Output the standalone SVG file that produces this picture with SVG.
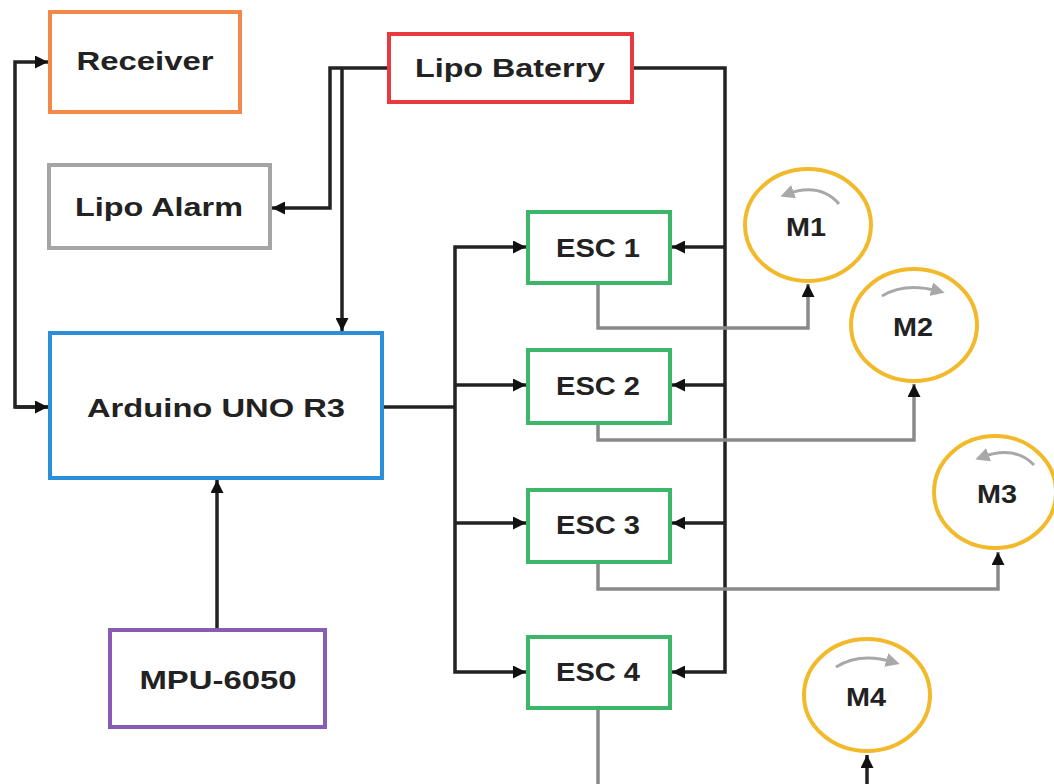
<svg xmlns="http://www.w3.org/2000/svg" width="1054" height="784" viewBox="0 0 1054 784">
<defs>
<style>
.box{fill:#fff;stroke-width:4}
.lbl{font-family:"Liberation Sans",Arial,sans-serif;font-weight:bold;font-size:26px;fill:#222;text-anchor:middle;dominant-baseline:central}
.c{fill:none;stroke:#222;stroke-width:3.5}
.g{fill:none;stroke:#8a8a8a;stroke-width:3.5}
.mot{fill:#fff;stroke:#F2B92A;stroke-width:4}
.rot{fill:none;stroke:#a8a8a8;stroke-width:3}
</style>
<marker id="ah" viewBox="0 0 10 10" refX="10" refY="5" markerWidth="13" markerHeight="13" markerUnits="userSpaceOnUse" orient="auto">
<path d="M0,0 L10,5 L0,10 Z" fill="#111"/>
</marker>
<marker id="rh" viewBox="0 0 10 10" refX="5" refY="5" markerWidth="14" markerHeight="14" markerUnits="userSpaceOnUse" orient="auto">
<path d="M0,0 L10,5 L0,10 Z" fill="#a8a8a8"/>
</marker>
</defs>
<rect width="1054" height="784" fill="#fff"/>

<g id="connectors">
<path class="c" d="M50,407 L15,407 L15,62 L48,62" marker-end="url(#ah)"/>
<path class="c" d="M15,407 L48,407" marker-end="url(#ah)"/>
<path class="c" d="M389,68 L330,68 L330,208 L272,208" marker-end="url(#ah)"/>
<path class="c" d="M342,68 L342,331" marker-end="url(#ah)"/>
<path class="c" d="M632,68 L725,68 L725,672 L672,672" marker-end="url(#ah)"/>
<path class="c" d="M725,247 L672,247" marker-end="url(#ah)"/>
<path class="c" d="M725,385 L672,385" marker-end="url(#ah)"/>
<path class="c" d="M725,523 L672,523" marker-end="url(#ah)"/>
<path class="c" d="M382,407 L455,407"/>
<path class="c" d="M455,407 L455,247 L526,247" marker-end="url(#ah)"/>
<path class="c" d="M455,385 L526,385" marker-end="url(#ah)"/>
<path class="c" d="M455,407 L455,672 L526,672" marker-end="url(#ah)"/>
<path class="c" d="M455,523 L526,523" marker-end="url(#ah)"/>
<path class="c" d="M217,630 L217,480" marker-end="url(#ah)"/>
<path class="g" d="M598,283 L598,328 L808,328 L808,284" marker-end="url(#ah)"/>
<path class="g" d="M598,423 L598,440 L914,440 L914,384" marker-end="url(#ah)"/>
<path class="g" d="M598,562 L598,589 L998,589 L998,552" marker-end="url(#ah)"/>
<path class="g" d="M598,708 L598,790"/>
<path class="c" d="M867,790 L867,755" marker-end="url(#ah)"/>
</g>

<g id="receiver"><rect class="box" x="50" y="12" width="190" height="100" stroke="#F0894A"/><text class="lbl" x="145" y="61" textLength="137" lengthAdjust="spacingAndGlyphs">Receiver</text></g>
<g id="lipo-alarm"><rect class="box" x="49" y="165" width="221" height="83" stroke="#A5A5A5"/><text class="lbl" x="159" y="207" textLength="168" lengthAdjust="spacingAndGlyphs">Lipo Alarm</text></g>
<g id="lipo-battery"><rect class="box" x="389" y="34" width="243" height="68" stroke="#E8393F"/><text class="lbl" x="510" y="68" textLength="190" lengthAdjust="spacingAndGlyphs">Lipo Baterry</text></g>
<g id="arduino"><rect class="box" x="50" y="333" width="332" height="145" stroke="#2A8FD8"/><text class="lbl" x="216" y="408" textLength="258" lengthAdjust="spacingAndGlyphs">Arduino UNO  R3</text></g>
<g id="mpu"><rect class="box" x="110" y="630" width="215" height="97" stroke="#8A5BB5"/><text class="lbl" x="218" y="680" textLength="157" lengthAdjust="spacingAndGlyphs">MPU-6050</text></g>
<g id="esc1"><rect class="box" x="528" y="212" width="142" height="71" stroke="#3DB56B"/><text class="lbl" x="598" y="248" textLength="84" lengthAdjust="spacingAndGlyphs">ESC 1</text></g>
<g id="esc2"><rect class="box" x="528" y="350" width="142" height="73" stroke="#3DB56B"/><text class="lbl" x="598" y="386" textLength="84" lengthAdjust="spacingAndGlyphs">ESC 2</text></g>
<g id="esc3"><rect class="box" x="528" y="490" width="142" height="72" stroke="#3DB56B"/><text class="lbl" x="598" y="525" textLength="84" lengthAdjust="spacingAndGlyphs">ESC 3</text></g>
<g id="esc4"><rect class="box" x="528" y="637" width="142" height="71" stroke="#3DB56B"/><text class="lbl" x="598" y="672" textLength="84" lengthAdjust="spacingAndGlyphs">ESC 4</text></g>

<g id="m1"><ellipse class="mot" cx="808" cy="225" rx="63" ry="56"/><path class="rot" d="M839,204 Q820,182 787,194" marker-end="url(#rh)"/><text class="lbl" x="806" y="227" font-size="22" textLength="40" lengthAdjust="spacingAndGlyphs">M1</text></g>
<g id="m2"><ellipse class="mot" cx="914" cy="325" rx="63" ry="56"/><path class="rot" d="M882,296 Q905,282 938,291" marker-end="url(#rh)"/><text class="lbl" x="913" y="327" font-size="22" textLength="40" lengthAdjust="spacingAndGlyphs">M2</text></g>
<g id="m3"><ellipse class="mot" cx="995" cy="492" rx="61" ry="56"/><path class="rot" d="M1034,465 Q1015,445 982,457" marker-end="url(#rh)"/><text class="lbl" x="997" y="494" font-size="22" textLength="40" lengthAdjust="spacingAndGlyphs">M3</text></g>
<g id="m4"><ellipse class="mot" cx="867" cy="695" rx="63" ry="56"/><path class="rot" d="M836,667 Q860,652 893,662" marker-end="url(#rh)"/><text class="lbl" x="866" y="697" font-size="22" textLength="40" lengthAdjust="spacingAndGlyphs">M4</text></g>
</svg>
